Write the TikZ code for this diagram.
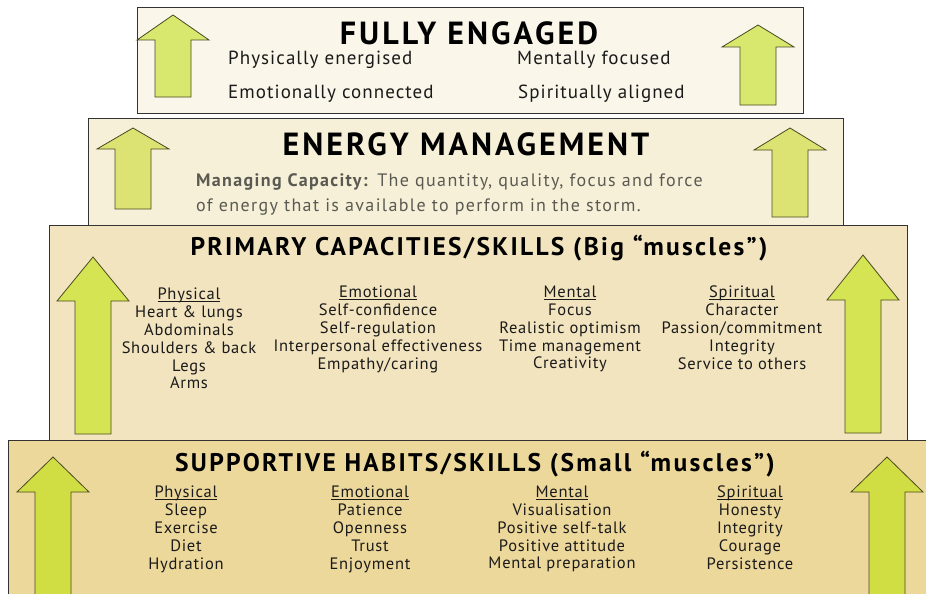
\documentclass[tikz,border=0pt]{standalone}
\usepackage{fontspec}
\setmainfont{PT Sans}[LetterSpace=4.5]
\newfontfamily\headfont{PT Sans}[LetterSpace=9.5]
\newfontfamily\tierfont{PT Sans}[LetterSpace=9]
\newfontfamily\statefont{PT Sans}[LetterSpace=5.5]
\newfontfamily\notefont{PT Sans}[LetterSpace=7.5]
\usepackage{tikz}
\usetikzlibrary{positioning}

\definecolor{tierA}{HTML}{FAF6EA}
\definecolor{tierB}{HTML}{F6F0D8}
\definecolor{tierC}{HTML}{F2E4BF}
\definecolor{tierD}{HTML}{EDD89C}
\definecolor{leafA}{HTML}{D8E86E}
\definecolor{leafB}{HTML}{DCE372}
\definecolor{leafC}{HTML}{D4E452}
\definecolor{leafD}{HTML}{D1DE43}
\definecolor{rim}{HTML}{4A4A22}
\definecolor{ink}{HTML}{1A1A1A}
\definecolor{grayink}{HTML}{5A5A52}

% arrow: centre x, tip y, head base y, bottom y, fill
\newcommand{\growarrow}[5]{%
  \draw[growth, fill=#5] (#1-36,#3) -- (#1,#2) -- (#1+36,#3) -- (#1+18,#3)
    -- (#1+18,#4) -- (#1-18,#4) -- (#1-18,#3) -- cycle;}
% column header, underlined close to the baseline
\newcommand{\colhead}[1]{\setbox0\hbox{#1}\rlap{\rule[-2.2pt]{\wd0}{0.7pt}}\box0}

\begin{document}
\begin{tikzpicture}[x=1pt, y=-1pt,
   tier/.style={draw=black!80, line width=1pt},
   growth/.style={draw=rim, line width=0.8pt},
   heading/.style={font=\headfont\fontsize{32}{34}\selectfont\bfseries, text=black, inner sep=0pt, anchor=base},
   subhead/.style={font=\tierfont\fontsize{25.5}{27}\selectfont\bfseries, text=black, inner sep=0pt, anchor=base},
   state/.style={font=\statefont\fontsize{19}{21}\selectfont, text=ink, inner sep=0pt, anchor=base west},
   col/.style={font=\fontsize{16.5}{17.8}\selectfont, text=ink, inner sep=0pt, align=center, anchor=north}]
   \useasboundingbox (0,0) rectangle (926,594);

   % tiers, top to bottom
   \draw[tier, fill=tierD] (8,440) rectangle (940,610);
   \draw[tier, fill=tierC] (49,225) rectangle (907,440);
   \draw[tier, fill=tierB] (88,118) rectangle (843,225);
   \draw[tier, fill=tierA] (137,8) rectangle (803,113);

   % arrows
   \growarrow{173}{15}{40}{97}{leafA}
   \growarrow{758}{25}{47}{105}{leafA}
   \growarrow{133}{128}{149}{209}{leafB}
   \growarrow{790}{128}{150}{217}{leafB}
   \growarrow{93}{257}{301}{434}{leafC}
   \growarrow{863}{255}{300}{433}{leafC}
   \growarrow{53}{457}{492}{600}{leafD}
   \growarrow{887}{457}{492}{600}{leafD}

   % fully engaged
   \node[heading] (engaged) at (469,45) {FULLY ENGAGED};
   \node[state] (phys) at (228,65) {Physically energised};
   \node[state] (emot) at (228,99) {Emotionally connected};
   \node[state] (ment) at (517,65) {Mentally focused};
   \node[state] (spir) at (518,99) {Spiritually aligned};

   % energy management
   \node[heading] (energy) at (466,155) {ENERGY MANAGEMENT};
   \node[font=\notefont\fontsize{18}{25}\selectfont, text=grayink, inner sep=0pt, align=left, anchor=north west] (capacity) at (196,173)
      {\textbf{Managing Capacity:} The quantity, quality, focus and force\\of energy that is available to perform in the storm.};

   % primary capacities
   \node[subhead] (primary) at (479,255) {PRIMARY CAPACITIES/SKILLS (Big “muscles”)};
   \node[col] (pPhys) at (189,288) {\colhead{Physical}\\Heart \& lungs\\Abdominals\\Shoulders \& back\\Legs\\Arms};
   \node[col] (pEmot) at (378,286) {\colhead{Emotional}\\Self-confidence\\Self-regulation\\Interpersonal effectiveness\\Empathy/caring};
   \node[col] (pMent) at (570,286) {\colhead{Mental}\\Focus\\Realistic optimism\\Time management\\Creativity};
   \node[col] (pSpir) at (742,286) {\colhead{Spiritual}\\Character\\Passion/commitment\\Integrity\\Service to others};

   % supportive habits
   \node[subhead] (support) at (475,471) {SUPPORTIVE HABITS/SKILLS (Small “muscles”)};
   \node[col] (sPhys) at (186,486) {\colhead{Physical}\\Sleep\\Exercise\\Diet\\Hydration};
   \node[col] (sEmot) at (370,486) {\colhead{Emotional}\\Patience\\Openness\\Trust\\Enjoyment};
   \node[col] (sMent) at (562,486) {\colhead{Mental}\\Visualisation\\Positive self-talk\\Positive attitude\\Mental preparation};
   \node[col] (sSpir) at (750,486) {\colhead{Spiritual}\\Honesty\\Integrity\\Courage\\Persistence};
\end{tikzpicture}
\end{document}
